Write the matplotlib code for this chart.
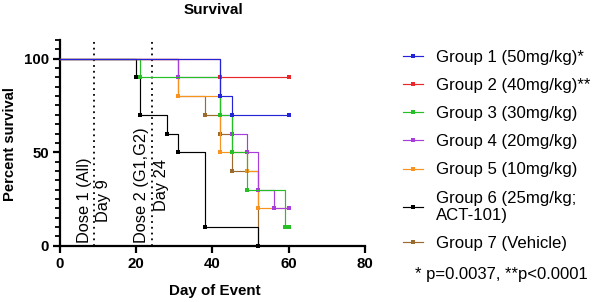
import matplotlib
matplotlib.use("Agg")
import matplotlib.pyplot as plt
from matplotlib.lines import Line2D
from matplotlib.ticker import MultipleLocator

plt.rcParams['font.family'] = ['Liberation Sans', 'DejaVu Sans']

# ---- data ----
groups = ["Group 1 (50mg/kg)*", "Group 2 (40mg/kg)**", "Group 3 (30mg/kg)",
          "Group 4 (20mg/kg)", "Group 5 (10mg/kg)", "Group 6 (25mg/kg;\nACT-101)",
          "Group 7 (Vehicle)"]
colors = ["#2323d8", "#e8262b", "#26c026", "#a93ddc", "#f7931e", "#000000", "#9a6a2f"]

g1_days = [0, 42, 45, 60]
g1_surv = [100, 80, 70, 70]
g2_days = [0, 42, 60]
g2_surv = [100, 90, 90]
g3_days = [0, 21, 42, 45, 49, 59, 60]
g3_surv = [100, 90, 70, 50, 30, 10, 10]
g4_days = [0, 31, 42, 45, 49, 52, 56, 60]
g4_surv = [100, 90, 70, 60, 50, 30, 20, 20]
g5_days = [0, 31, 42, 49, 52, 60]
g5_surv = [100, 80, 50, 40, 20, 20]
g6_days = [0, 20, 21, 28, 31, 38, 52]
g6_surv = [100, 90, 70, 60, 50, 10, 0]
g7_days = [0, 31, 38, 42, 45, 52]
g7_surv = [100, 80, 70, 60, 40, 0]

all_days = [g1_days, g2_days, g3_days, g4_days, g5_days, g6_days, g7_days]
all_surv = [g1_surv, g2_surv, g3_surv, g4_surv, g5_surv, g6_surv, g7_surv]

dose_days = [9, 24]
dose_labels = ["Dose 1 (All)\nDay 9", "Dose 2 (G1,G2)\nDay 24"]

x_ticks = [0, 20, 40, 60, 80]
y_ticks = [0, 50, 100]
p_text = "* p=0.0037, **p<0.0001"

# ---- figure ----
fig = plt.figure(figsize=(5.97, 3.02), dpi=100)
ax = fig.add_axes([60/597, 1-245.7/302, 305/597, 205.7/302])

for i, (d, s) in enumerate(zip(all_days, all_surv)):
    z = 20 - i
    ax.step(d, s, where='post', color=colors[i], lw=0.85, zorder=z, clip_on=False)
    ax.plot(d[1:], s[1:], ls='none', marker='s', ms=2.5, mew=0, color=colors[i],
            zorder=z, clip_on=False)

for dd, lab in zip(dose_days, dose_labels):
    ax.axvline(dd, color='black', ls=(0, (1, 2.2)), lw=1.3, zorder=1)
    ax.text(dd, 1.3, lab, rotation=90, ha='center', va='bottom',
            multialignment='center', fontsize=11.8, linespacing=1.35, zorder=2)

ax.set_xlim(0, 80)
ax.set_ylim(0, 110)
ax.set_xticks(x_ticks)
ax.set_yticks(y_ticks)
ax.yaxis.set_minor_locator(MultipleLocator(5))
for sp in ['top', 'right']:
    ax.spines[sp].set_visible(False)
for sp in ['left', 'bottom']:
    ax.spines[sp].set_linewidth(1.6)
ax.tick_params(axis='both', which='major', direction='out', length=5, width=1.6,
               labelsize=10.8, pad=3)
ax.tick_params(axis='y', which='minor', direction='out', length=3.5, width=1.3)
for lab in ax.get_xticklabels() + ax.get_yticklabels():
    lab.set_fontweight('bold')

fig.text(10/597, 1-144/302, "Percent survival", rotation=90, ha='center', va='center',
         fontsize=10.6, fontweight='bold')
fig.text(215/597, 1-291.5/302, "Day of Event", ha='center', va='center',
         fontsize=10.9, fontweight='bold')
fig.text(213/597, 1-10/302, "Survival", ha='center', va='center',
         fontsize=11, fontweight='bold')

handles = [Line2D([0], [0], color=c, lw=0.85, marker='s', ms=2.5, mew=0) for c in colors]
leg = fig.legend(handles, groups, loc='upper left', bbox_to_anchor=(403/597, 1-50/302),
                 frameon=False, fontsize=12.1, handlelength=1.2, handletextpad=0.75,
                 labelspacing=0.78, borderpad=0, borderaxespad=0)
fig.text(415/597, 1-275/302, p_text, ha='left', va='center', fontsize=12)

fig.savefig("out.png", dpi=100)
